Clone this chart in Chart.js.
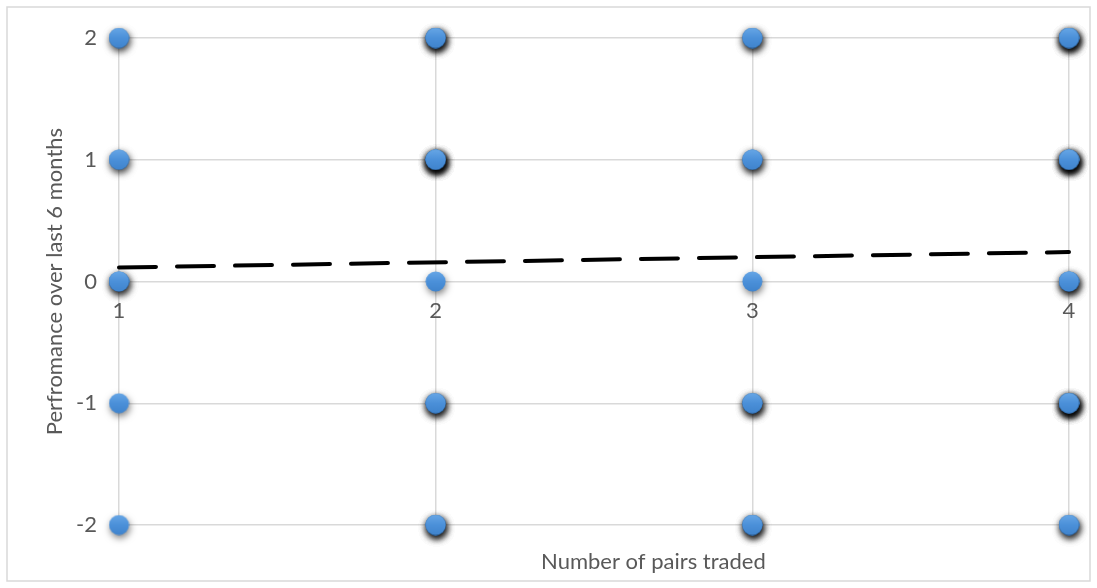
<!DOCTYPE html>
<html>
<head>
<meta charset="utf-8">
<script src="https://cdn.jsdelivr.net/npm/chart.js@4.4.1/dist/chart.umd.min.js"></script>
<style>
  html, body { margin: 0; padding: 0; background: #ffffff; }
  #wrap { width: 1097px; height: 588px; position: relative; }
</style>
</head>
<body>
<div id="wrap"><canvas id="chart" width="1097" height="588"></canvas></div>
<script>
// Number of pairs traded (x) and the performance scores (y) observed
const pairCounts = [1, 2, 3, 4];
const performanceLevels = [2, 1, 0, -1, -2];

// How many traders sit at each performance level, per number of pairs
const tradersAt1 = [2, 2, 3, 1, 1];
const tradersAt2 = [5, 8, 1, 4, 4];
const tradersAt3 = [3, 3, 1, 4, 4];
const tradersAt4 = [6, 8, 4, 8, 3];

// Linear trendline end points
const trendX = [1, 4];
const trendY = [0.115, 0.242];

const xAxisTitle = 'Number of pairs traded';
const yAxisTitle = 'Perfromance over last 6 months';

const FONT = 'Lato, "Open Sans", "DejaVu Sans", sans-serif';
const TEXT = '#595959';
const GRID = '#d9d9d9';

// One point per trader, so overlapping observations stack their shadows
const countsByPairs = [tradersAt1, tradersAt2, tradersAt3, tradersAt4];
const observations = [];
pairCounts.forEach((x, i) => {
  performanceLevels.forEach((y, j) => {
    for (let k = 0; k < countsByPairs[i][j]; k++) observations.push({ x, y });
  });
});
const trendPoints = trendX.map((x, i) => ({ x, y: trendY[i] }));

// Round marker with a soft top-to-bottom shading
function makeMarker() {
  const c = document.createElement('canvas');
  c.width = 21; c.height = 21;
  const g = c.getContext('2d');
  const grad = g.createLinearGradient(0, 0, 0, 21);
  grad.addColorStop(0, '#68a7e6');
  grad.addColorStop(0.5, '#4b90d9');
  grad.addColorStop(1, '#3f83cc');
  g.fillStyle = grad;
  g.beginPath();
  g.arc(10.5, 10.5, 10, 0, Math.PI * 2);
  g.fill();
  return c;
}

// Drop shadow under the markers
const markerShadow = {
  id: 'markerShadow',
  beforeDatasetDraw(chart, args) {
    if (args.index !== 0) return;
    const ctx = chart.ctx;
    ctx.save();
    ctx.shadowColor = 'rgba(0,0,0,0.5)';
    ctx.shadowBlur = 7;
    ctx.shadowOffsetX = 1;
    ctx.shadowOffsetY = 3;
  },
  afterDatasetDraw(chart, args) {
    if (args.index !== 0) return;
    chart.ctx.restore();
  }
};

// Outer frame and the horizontal axis title at the bottom
const frameAndTitle = {
  id: 'frameAndTitle',
  beforeDraw(chart) {
    const ctx = chart.ctx;
    ctx.save();
    ctx.fillStyle = '#ffffff';
    ctx.fillRect(0, 0, chart.width, chart.height);
    ctx.strokeStyle = GRID;
    ctx.lineWidth = 1.5;
    ctx.strokeRect(7, 7, chart.width - 14, chart.height - 14);
    ctx.restore();
  },
  afterDraw(chart) {
    const ctx = chart.ctx;
    const a = chart.chartArea;
    ctx.save();
    ctx.font = '22px ' + FONT;
    ctx.fillStyle = TEXT;
    ctx.textAlign = 'center';
    ctx.textBaseline = 'alphabetic';
    ctx.fillText(xAxisTitle, a.left + (a.right - a.left) * 0.5625, 569);
    ctx.restore();
  }
};

new Chart(document.getElementById('chart'), {
  type: 'scatter',
  data: {
    datasets: [
      {
        label: 'Traders',
        data: observations,
        pointStyle: makeMarker(),
        pointRadius: 10,
        backgroundColor: '#4b90d9',
        borderWidth: 0,
        clip: false,
        order: 1
      },
      {
        label: 'Trend',
        type: 'line',
        data: trendPoints,
        borderColor: '#000000',
        borderWidth: 4,
        borderDash: [37, 21],
        borderCapStyle: 'round',
        pointRadius: 0,
        fill: false,
        clip: false,
        order: 0
      }
    ]
  },
  options: {
    responsive: false,
    animation: false,
    events: [],
    layout: { padding: { left: 0, top: 38, right: 28, bottom: 63 } },
    plugins: {
      legend: { display: false },
      tooltip: { enabled: false }
    },
    scales: {
      x: {
        type: 'linear',
        position: { y: 0 },
        min: 1,
        max: 4,
        afterFit(scale) { scale.height = 0; },
        ticks: {
          stepSize: 1,
          padding: 16,
          color: TEXT,
          font: { family: FONT, size: 22 },
          callback: (v) => String(v)
        },
        grid: { color: GRID, lineWidth: 1.5, drawTicks: false },
        border: { display: false }
      },
      y: {
        type: 'linear',
        position: 'left',
        min: -2,
        max: 2,
        afterFit(scale) { scale.width = 119; },
        ticks: {
          stepSize: 1,
          padding: 22,
          color: TEXT,
          font: { family: FONT, size: 22 },
          callback: (v) => String(v)
        },
        grid: { color: GRID, lineWidth: 1.5, drawTicks: false },
        border: { display: false },
        title: {
          display: true,
          text: yAxisTitle,
          color: TEXT,
          font: { family: FONT, size: 22 },
          padding: { top: 42, bottom: 0 }
        }
      }
    }
  },
  plugins: [markerShadow, frameAndTitle]
});
</script>
</body>
</html>
